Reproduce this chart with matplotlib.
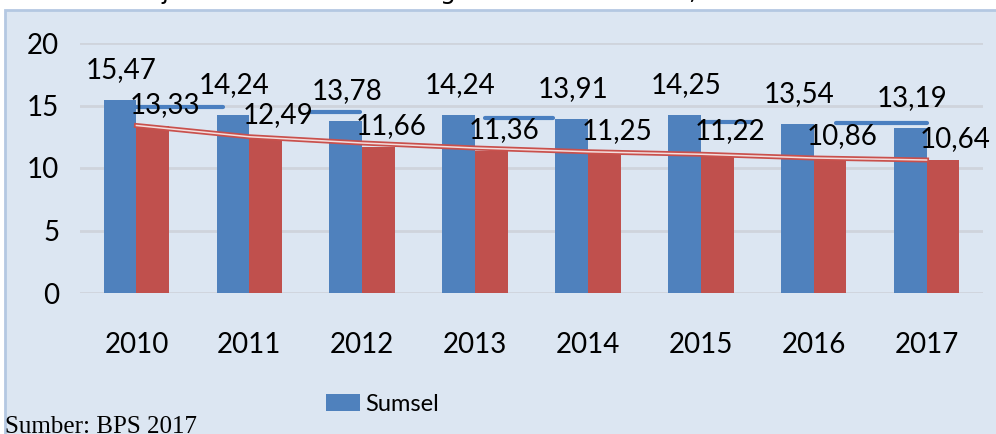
import matplotlib
matplotlib.use("Agg")
import matplotlib.pyplot as plt
from matplotlib.patches import Rectangle

years = ["2010", "2011", "2012", "2013", "2014", "2015", "2016", "2017"]
sumsel = [15.47, 14.24, 13.78, 14.24, 13.91, 14.25, 13.54, 13.19]
nasional = [13.33, 12.49, 11.66, 11.36, 11.25, 11.22, 10.86, 10.64]
# trend lines as they appear in the picture (blue one is broken into pieces)
sumsel_trend = [(0.0, 0.77, 14.9), (1.54, 1.98, 14.5), (3.09, 3.69, 14.0),
                (4.99, 5.45, 13.7), (6.2, 7.0, 13.6)]
nasional_trend = [13.4, 12.5, 12.0, 11.6, 11.3, 11.1, 10.8, 10.64]

bg = "#dce6f2"
blue = "#4f81bd"
red = "#c0504d"
W, H = 996, 434

fig = plt.figure(figsize=(W / 100, H / 100), dpi=100)
fig.patch.set_facecolor("white")
fig.add_artist(Rectangle((5 / W, -0.1), 1.1, 1.1 - 10 / H,
                         transform=fig.transFigure, facecolor=bg,
                         edgecolor="#b4c8e2", linewidth=2, zorder=-5))

# cut-off title descenders at the very top
for xp, ch in [(165, "j"), (448, "g"), (692, ",")]:
    fig.text(xp / W, 1 + 1 / H, ch, fontsize=18, family="DejaVu Sans",
             va="baseline", ha="center", color="black")

ax = fig.add_axes([80 / W, (H - 293) / H, 903 / W, 250 / H])
ax.set_facecolor("none")
x = list(range(len(years)))
bw = 0.29
ax.bar([i - bw / 2 for i in x], sumsel, bw, color=blue, zorder=2, label="Sumsel")
ax.bar([i + bw / 2 for i in x], nasional, bw, color=red, zorder=2)

for a, b, v in sumsel_trend:
    ax.plot([a, b], [v, v], color="#4a7fc0", lw=3, solid_capstyle="round", zorder=3)
ax.plot(x, nasional_trend, color="#c9504c", lw=3.6, zorder=3)
ax.plot(x, nasional_trend, color="#f3dede", lw=1.1, zorder=3)

for i in x:
    ax.annotate(f"{sumsel[i]:.2f}".replace(".", ","), (i - bw / 2, sumsel[i]),
                xytext=(1, 12), textcoords="offset points", ha="center", va="bottom",
                fontsize=20, family="Lato", zorder=4)
    ax.annotate(f"{nasional[i]:.2f}".replace(".", ","), (i + bw / 2, nasional[i]),
                xytext=(9, 6), textcoords="offset points", ha="center", va="bottom",
                fontsize=20, family="Lato", zorder=4)

ax.set_xlim(-0.5, 7.5)
ax.set_ylim(0, 20)
ax.set_yticks([0, 5, 10, 15, 20])
ax.set_xticks(x)
ax.set_xticklabels(years)
ax.tick_params(length=0, labelsize=20)
ax.tick_params(axis="x", pad=28)
ax.tick_params(axis="y", pad=15)
for lab in ax.get_xticklabels() + ax.get_yticklabels():
    lab.set_family("Lato")
ax.yaxis.grid(True, color="#cfd4dc", lw=2, zorder=1)
ax.set_axisbelow(True)
for s in ax.spines.values():
    s.set_visible(False)

ax.legend(loc="upper left", bbox_to_anchor=(0.262, -0.365), frameon=False,
          prop={"family": "Lato", "size": 17}, handlelength=1.45, handleheight=0.7,
          handletextpad=0.2, borderaxespad=0)

fig.text(5 / W, -4 / H, "Sumber: BPS 2017", family="Liberation Serif", fontsize=18,
         va="bottom", ha="left")

fig.savefig("out.png", dpi=100, facecolor=fig.get_facecolor())
